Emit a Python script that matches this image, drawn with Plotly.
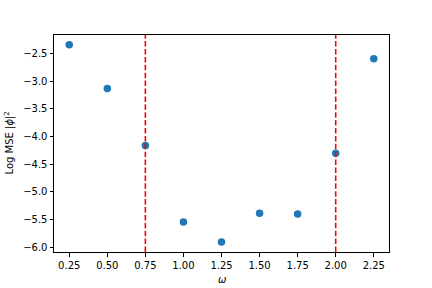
import plotly.graph_objects as go

omega = [0.25, 0.5, 0.75, 1.0, 1.25, 1.5, 1.75, 2.0, 2.25]
log_mse = [-2.34, -3.13, -4.16, -5.545, -5.905, -5.383, -5.40, -4.30, -2.59]
vlines = [0.75, 2.0]
xticks = [0.25, 0.5, 0.75, 1.0, 1.25, 1.5, 1.75, 2.0, 2.25]
yticks = [-2.5, -3.0, -3.5, -4.0, -4.5, -5.0, -5.5, -6.0]

fig = go.Figure()
fig.add_trace(go.Scatter(x=omega, y=log_mse, mode="markers",
                         marker=dict(color="#1f77b4", size=7.5, line=dict(width=0)),
                         showlegend=False, hoverinfo="skip"))
for xv in vlines:
    fig.add_shape(type="line", x0=xv, x1=xv, y0=0, y1=1, xref="x", yref="paper",
                  line=dict(color="#ff0000", width=1.6, dash="5.5px,2.4px"),
                  layer="above")

fig.add_annotation(text="<i>ω</i>", xref="paper", yref="paper", x=0.5, y=0,
                   xanchor="center", yanchor="middle", yshift=-27, showarrow=False,
                   font=dict(size=10))
fig.add_annotation(text="Log MSE |<i>ϕ</i>|<sup>2</sup>", xref="paper", yref="paper",
                   x=0, y=0.5, xanchor="center", yanchor="middle", xshift=-45,
                   textangle=-90, showarrow=False, font=dict(size=10))

fig.update_layout(
    width=432, height=288,
    margin=dict(l=54, r=43, t=35, b=36),
    paper_bgcolor="white", plot_bgcolor="white",
    font=dict(family="DejaVu Sans", size=10, color="black"),
    xaxis=dict(range=[0.15, 2.35], tickvals=xticks, tickformat=".2f", automargin=False,
               showgrid=False, zeroline=False, showline=True, linecolor="black",
               linewidth=1, mirror=True, ticks="outside", ticklen=3.5,
               tickcolor="black"),
    yaxis=dict(range=[-6.085, -2.163], tickvals=yticks, tickformat=".1f", automargin=False,
               showgrid=False, zeroline=False, showline=True, linecolor="black",
               linewidth=1, mirror=True, ticks="outside", ticklen=3.5,
               tickcolor="black"),
)
fig.write_html("out.html", config={"displayModeBar": False},
               post_script="document.body.style.margin='0px';")
